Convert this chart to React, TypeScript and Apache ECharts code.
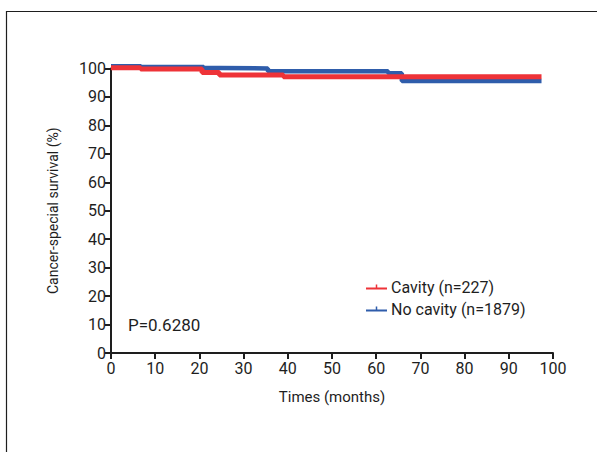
import React, { useEffect, useRef } from "react";
import * as echarts from "echarts";

const xTicks = [0, 100, 10];
const yTicks = [0, 100, 10];

const cavityName = "Cavity (n=227)";
const noCavityName = "No cavity (n=1879)";

const cavityMonths = [0, 6.7, 20.6, 24.5, 39, 97.4];
const cavitySurvival = [100.3, 99.8, 98.6, 97.7, 97.1, 97.1];

const noCavityMonths = [0, 6.8, 21, 24.5, 35.5, 62.7, 65.8, 97.4];
const noCavitySurvival = [100.8, 100.5, 100.2, 100.0, 99.0, 98.3, 95.6, 95.6];

const pValueText = "P=0.6280";

const FONT = "Roboto, 'Liberation Sans', sans-serif";
const RED = "#ee3338";
const BLUE = "#2f5dab";
const INK = "#1e1e1e";

export default function App() {
  const ref = useRef<HTMLDivElement>(null);
  useEffect(() => {
    if (!ref.current) return;
    const chart = echarts.init(ref.current, null, { renderer: "svg" });
    const zip = (xs: number[], ys: number[]) => xs.map((x, i) => [x, ys[i]]);
    chart.setOption({
      animation: false,
      backgroundColor: "#ffffff",
      textStyle: { fontFamily: FONT },
      grid: { left: 111, right: 44, top: 68.5, bottom: 99, containLabel: false },
      xAxis: {
        type: "value",
        min: xTicks[0],
        max: xTicks[1],
        interval: xTicks[2],
        name: "Times (months)",
        nameLocation: "middle",
        nameGap: 36,
        nameTextStyle: { fontSize: 15, color: INK, fontFamily: FONT },
        axisLine: { show: true, lineStyle: { color: INK, width: 2 } },
        axisTick: { show: true, length: 6, lineStyle: { color: INK, width: 2 } },
        axisLabel: { fontSize: 16, color: INK, margin: 7, fontFamily: FONT },
        splitLine: { show: false },
      },
      yAxis: {
        type: "value",
        min: yTicks[0],
        max: yTicks[1],
        interval: yTicks[2],
        name: "Cancer-special survival (%)",
        nameLocation: "middle",
        nameGap: 51,
        nameRotate: 90,
        nameTextStyle: { fontSize: 14, color: INK, fontFamily: FONT },
        axisLine: { show: true, lineStyle: { color: INK, width: 2 } },
        axisTick: { show: true, length: 6, lineStyle: { color: INK, width: 2 } },
        axisLabel: { fontSize: 16, color: INK, margin: 5, fontFamily: FONT },
        splitLine: { show: false },
      },
      legend: {
        orient: "vertical",
        left: 366,
        top: 279,
        padding: 0,
        itemWidth: 21,
        itemHeight: 8,
        itemGap: 6,
        data: [
          { name: cavityName, icon: "path://M0,6h21v2h-21z M9.75,3h1.5v3h-1.5z" },
          { name: noCavityName, icon: "path://M0,6h21v2h-21z M9.75,3h1.5v3h-1.5z" },
        ],
        textStyle: { fontSize: 16, color: INK, fontFamily: FONT, padding: [0, 0, 0, -1] },
      },
      series: [
        {
          name: noCavityName,
          type: "line",
          step: "end",
          data: zip(noCavityMonths, noCavitySurvival),
          symbol: "none",
          clip: false,
          color: BLUE,
          lineStyle: { color: BLUE, width: 4.5 },
        },
        {
          name: cavityName,
          type: "line",
          step: "end",
          data: zip(cavityMonths, cavitySurvival),
          symbol: "none",
          clip: false,
          color: RED,
          lineStyle: { color: RED, width: 5 },
        },
      ],
      graphic: [
        {
          type: "polyline",
          shape: { points: [[6.5, 452], [6.5, 11.5], [597, 11.5]] },
          style: { stroke: INK, lineWidth: 1.2, fill: "none" },
          silent: true,
        },
        {
          type: "text",
          left: 128,
          top: 316,
          style: { text: pValueText, fontSize: 17, fill: INK, fontFamily: FONT },
        },
      ],
    });
    return () => chart.dispose();
  }, []);
  return (
    <div
      ref={ref}
      style={{ position: "fixed", left: 0, top: 0, width: 597, height: 452 }}
    />
  );
}
